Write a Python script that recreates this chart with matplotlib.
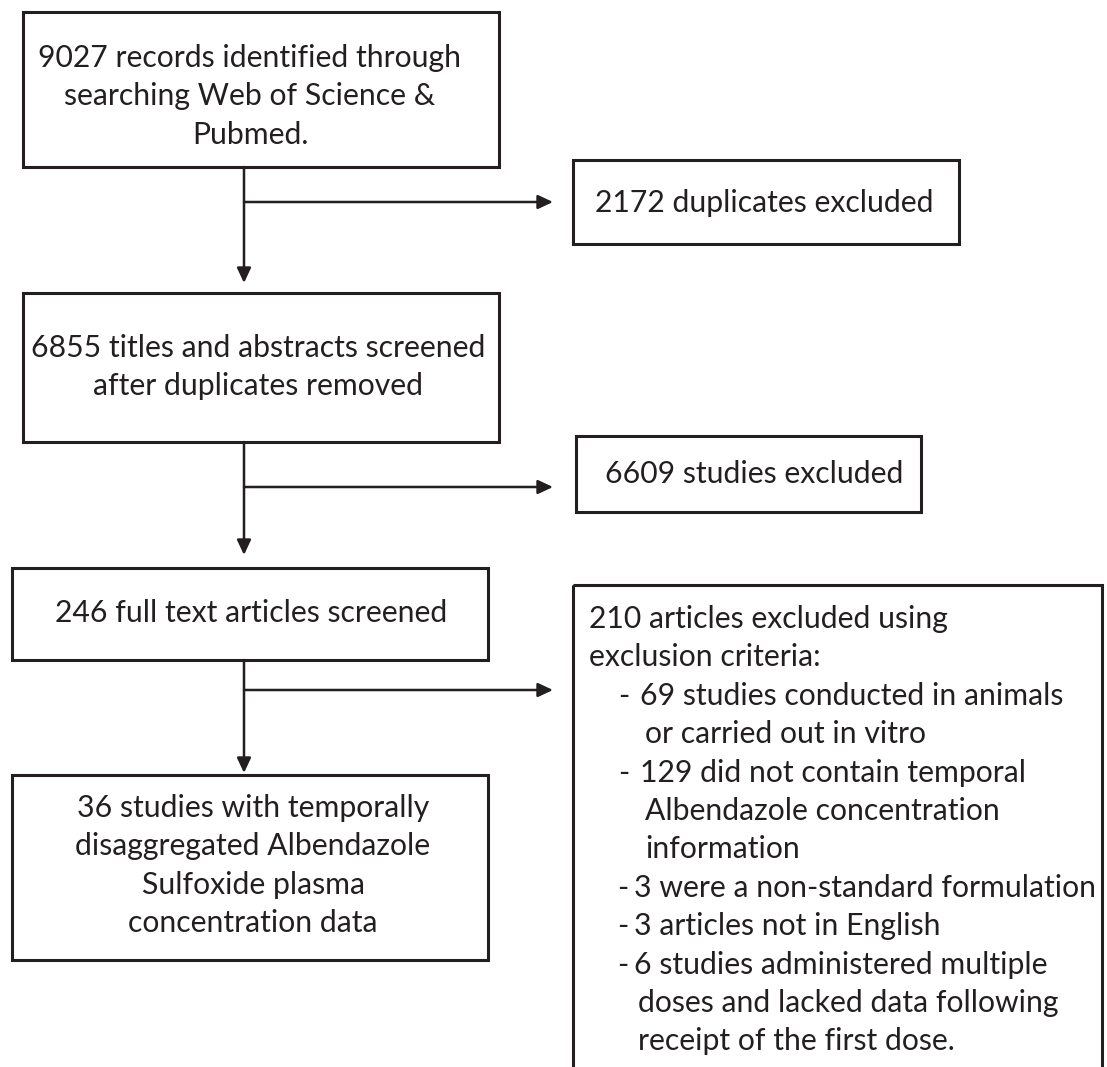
import matplotlib.pyplot as plt
from matplotlib.patches import Rectangle

# text of each box in the flow diagram
records_lines = ["9027 records identified through", "searching Web of Science &", "Pubmed."]
duplicates_lines = ["2172 duplicates excluded"]
screened_lines = ["6855 titles and abstracts screened", "after duplicates removed"]
excluded_lines = ["6609 studies excluded"]
fulltext_lines = ["246 full text articles screened"]
final_lines = ["36 studies with temporally", "disaggregated Albendazole",
               "Sulfoxide plasma", "concentration data"]
criteria_head = ["210 articles excluded using", "exclusion criteria:"]
criteria_items = [
    ["69 studies conducted in animals", "or carried out in vitro"],
    ["129 did not contain temporal", "Albendazole concentration", "information"],
    ["3 were a non-standard formulation"],
    ["3 articles not in English"],
    ["6 studies administered multiple", "doses and lacked data following",
     "receipt of the first dose."],
]

ink = '#231f20'
plt.rcParams['font.family'] = ['Lato', 'DejaVu Sans']
fs = 21.7
step = 38.4

fig = plt.figure(figsize=(11.07, 10.67), dpi=100)
ax = fig.add_axes([0, 0, 1, 1])
ax.set_xlim(0, 1107)
ax.set_ylim(1067, 0)
ax.axis('off')


def box(x0, y0, x1, y1):
    ax.add_patch(Rectangle((x0, y0), x1 - x0, y1 - y0, fill=False,
                           edgecolor=ink, lw=2.2, joinstyle='miter'))


def centred(lines, xc, y_first):
    for i, s in enumerate(lines):
        ax.text(xc, y_first + i * step, s, ha='center', va='baseline',
                fontsize=fs, color=ink)


def arrow(x0, y0, x1, y1):
    ax.annotate('', xy=(x1, y1), xytext=(x0, y0),
                arrowprops=dict(arrowstyle='-|>,head_length=0.9,head_width=0.42',
                                mutation_scale=10, lw=1.8, color=ink,
                                shrinkA=0, shrinkB=0))


# left column
box(23, 12, 499, 167)
centred(records_lines, 250, 67)
box(23, 293, 499, 442)
centred(screened_lines, 258, 357)
box(12, 568, 488, 660)
centred(fulltext_lines, 251, 622)
box(12, 775, 488, 960)
centred(final_lines, 253, 817)

# right column
box(573, 160, 959, 244)
centred(duplicates_lines, 764, 212)
box(576, 436, 921, 512)
centred(excluded_lines, 754, 483)
box(573, 585, 1102, 1090)

y = 628
for s in criteria_head:
    ax.text(589, y, s, ha='left', va='baseline', fontsize=fs, color=ink)
    y += step
for k, item in enumerate(criteria_items):
    # first two items have a wider gap after the dash
    dash_x, text_x, cont_x = (618, 640, 645) if k < 2 else (617, 634, 638)
    ax.text(dash_x, y, '-', ha='left', va='baseline', fontsize=fs, color=ink)
    for j, s in enumerate(item):
        ax.text(text_x if j == 0 else cont_x, y, s, ha='left', va='baseline',
                fontsize=fs, color=ink)
        y += step

# connectors
xv = 244
for top, tip, yb in [(167, 283, 202), (442, 555, 487), (660, 773, 690)]:
    arrow(xv, top, xv, tip)
    arrow(xv, yb, 553, yb)

fig.savefig('out.png', dpi=100, facecolor='white')
